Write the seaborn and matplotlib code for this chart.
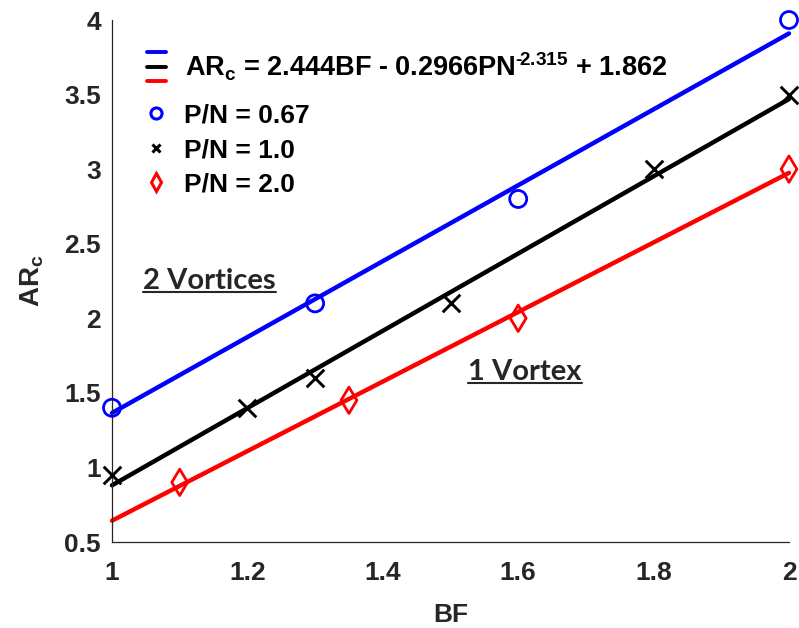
import matplotlib
matplotlib.use("Agg")
import matplotlib.pyplot as plt
import seaborn as sns
import pandas as pd
import numpy as np
from matplotlib.lines import Line2D
from matplotlib.legend_handler import HandlerBase

# ---------------- data ----------------
bf_067 = [1.0, 1.3, 1.6, 2.0]
ar_067 = [1.4, 2.1, 2.8, 4.0]
bf_10 = [1.0, 1.2, 1.3, 1.5, 1.8, 2.0]
ar_10 = [0.95, 1.4, 1.6, 2.1, 3.0, 3.5]
bf_20 = [1.1, 1.35, 1.6, 2.0]
ar_20 = [0.9, 1.45, 2.0, 3.0]

fit_bf = [1.0, 2.0]
fit_067 = [1.365, 3.91]
fit_10 = [0.88, 3.47]
fit_20 = [0.643, 2.975]

xticks = [1.0, 1.2, 1.4, 1.6, 1.8, 2.0]
xtick_labels = ["1", "1.2", "1.4", "1.6", "1.8", "2"]
yticks = [0.5, 1.0, 1.5, 2.0, 2.5, 3.0, 3.5, 4.0]
ytick_labels = ["0.5", "1", "1.5", "2", "2.5", "3", "3.5", "4"]

formula_label = "AR$_\\mathregular{c}$ = 2.444BF - 0.2966PN$^\\mathregular{\u2010\\!2.315}$ + 1.862"
series_labels = ["P/N = 0.67", "P/N = 1.0", "P/N = 2.0"]
region_labels = ["2 Vortices", "1 Vortex"]
region_pos = [(1.046, 2.25), (1.526, 1.64)]

BLUE, BLACK, RED = "#0000ff", "#000000", "#ff0000"
TXT = "#262626"
FS = 19

# ---------------- style ----------------
sns.set_theme(style="white")
plt.rcParams["font.family"] = ["Liberation Sans", "DejaVu Sans"]
plt.rcParams["font.weight"] = "bold"
plt.rcParams["mathtext.fontset"] = "custom"
plt.rcParams["mathtext.rm"] = "Liberation Sans:bold"
plt.rcParams["mathtext.it"] = "Liberation Sans:bold"
plt.rcParams["mathtext.bf"] = "Liberation Sans:bold"

fig = plt.figure(figsize=(7.99, 6.28), dpi=100)
ax = fig.add_axes([112 / 799, 1 - 542 / 628, (789 - 112) / 799, (542 - 20) / 628])

# fit lines
for ys, c in [(fit_067, BLUE), (fit_10, BLACK), (fit_20, RED)]:
    sns.lineplot(x=fit_bf, y=ys, color=c, linewidth=3.2, ax=ax, zorder=2, clip_on=False)

# markers
sns.scatterplot(x=bf_067, y=ar_067, marker="o", s=150, color=BLUE, facecolor="none",
                edgecolor=BLUE, linewidth=2.0, ax=ax, zorder=3, clip_on=False)
sns.scatterplot(x=bf_10, y=ar_10, marker="x", s=160, color=BLACK, linewidth=2.1,
                ax=ax, zorder=3, clip_on=False)
sns.scatterplot(x=bf_20, y=ar_20, marker="d", s=180, color=RED, facecolor="none",
                edgecolor=RED, linewidth=2.0, ax=ax, zorder=3, clip_on=False)

ax.set_xlim(1, 2)
ax.set_ylim(0.5, 4)
ax.set_xticks(xticks)
ax.set_xticklabels(xtick_labels)
ax.set_yticks(yticks)
ax.set_yticklabels(ytick_labels)
ax.tick_params(direction="in", length=5, width=0.8, colors=TXT, labelsize=FS)
ax.tick_params(axis="x", pad=14)
ax.tick_params(axis="y", pad=8)
for lab in ax.get_xticklabels() + ax.get_yticklabels():
    lab.set_fontweight("bold")
for s in ["top", "right"]:
    ax.spines[s].set_visible(False)
for s in ["left", "bottom"]:
    ax.spines[s].set_color(TXT)
    ax.spines[s].set_linewidth(0.9)

ax.set_xlabel("BF", fontsize=FS, fontweight="bold", color=TXT, labelpad=13)
ax.set_ylabel("AR$_\\mathregular{c}$", fontsize=FS + 1, fontweight="bold", color=TXT, labelpad=13)

# region annotations
texts = []
for lab, (x, y) in zip(region_labels, region_pos):
    t = ax.text(x, y, lab, fontsize=21, fontweight="bold", color=TXT, ha="left", va="center",
                family=["Lato", "DejaVu Sans"])
    texts.append(t)


# legend with stacked-line handle
class StackHandle:
    def __init__(self, colors):
        self.colors = colors


class HandlerStack(HandlerBase):
    def create_artists(self, legend, orig_handle, xdescent, ydescent, width, height, fontsize, trans):
        arts = []
        offs = [0.55, 0.0, -0.55]
        for c, o in zip(orig_handle.colors, offs):
            yy = height / 2 - ydescent + o * fontsize
            ln = Line2D([-xdescent, -xdescent + width], [yy, yy], color=c, lw=2.8, transform=trans)
            arts.append(ln)
        return arts


leg_kw = dict(loc="upper left", frameon=False, handlelength=0.7,
              handletextpad=0.7, borderpad=0, borderaxespad=0)
leg1 = ax.legend([StackHandle([BLUE, BLACK, RED])], [formula_label],
                 handler_map={StackHandle: HandlerStack()}, fontsize=FS + 0.5,
                 bbox_to_anchor=(0.052, 0.942), **leg_kw)
for t in leg1.get_texts():
    t.set_color("#000000")
ax.add_artist(leg1)

handles = [
    Line2D([], [], ls="", marker="o", ms=8, mfc="none", mec=BLUE, mew=2.2),
    Line2D([], [], ls="", marker="x", ms=6, color=BLACK, mew=2.2),
    Line2D([], [], ls="", marker="d", ms=9, mfc="none", mec=RED, mew=2.2),
]
leg2 = ax.legend(handles, series_labels, bbox_to_anchor=(0.052, 0.84), fontsize=FS,
                 labelspacing=0.4, **leg_kw)
for t in leg2.get_texts():
    t.set_color("#000000")

# underline region labels
fig.canvas.draw()
r = fig.canvas.get_renderer()
inv = ax.transData.inverted()
for t in texts:
    bb = t.get_window_extent(r)
    (x0, y0), (x1, y1) = inv.transform([[bb.x0, bb.y0 + 2], [bb.x1, bb.y0 + 2]])
    ax.add_line(Line2D([x0, x1], [y0, y1], color=TXT, lw=1.5, zorder=4))

fig.savefig("out.png", dpi=100)
